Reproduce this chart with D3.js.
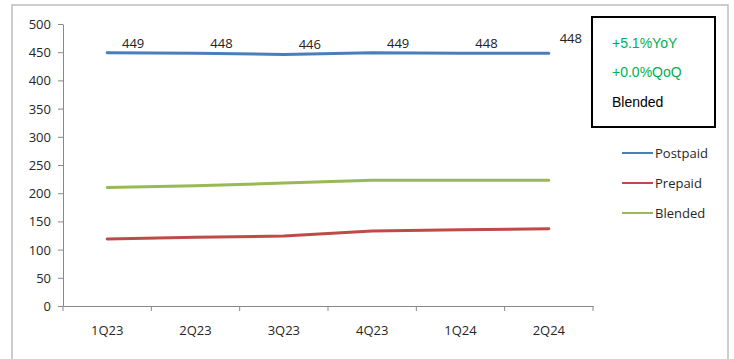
<!DOCTYPE html>
<html>
<head>
<meta charset="utf-8">
<script src="https://cdn.jsdelivr.net/npm/d3@7"></script>
<style>
  body { margin: 0; background: #fff; }
  svg { display: block; }
  .axis text { font-family: "Open Sans", sans-serif; font-size: 13px; fill: #262626; }
  .axis path, .axis line { stroke: #888; }
</style>
</head>
<body>
<div id="chart"></div>
<script>
const quarters = ['1Q23', '2Q23', '3Q23', '4Q23', '1Q24', '2Q24']
const postpaid = [449, 448, 446, 449, 448, 448]
const prepaid = [119, 122, 124, 133, 135, 137]
const blended = [210, 213, 218, 223, 223, 223]
const seriesNames = ['Postpaid', 'Prepaid', 'Blended']
const seriesColors = ['#4a7ebb', '#be4b48', '#98b954']
const yTicks = [0, 50, 100, 150, 200, 250, 300, 350, 400, 450, 500]
const boxLines = ['+5.1%YoY', '+0.0%QoQ', 'Blended']

const W = 734, H = 359
const margin = { top: 24, left: 63 }
const plotW = 530, plotH = 282

const svg = d3.select('#chart').append('svg')
    .attr('width', W)
    .attr('height', H)

// outer frame
svg.append('rect')
    .attr('x', 12).attr('y', 5)
    .attr('width', 716).attr('height', 370)
    .attr('fill', 'none')
    .attr('stroke', '#bdbdbd')
    .attr('stroke-width', 1.5)

const g = svg.append('g')
    .attr('transform', `translate(${margin.left}, ${margin.top})`)

const y = d3.scaleLinear().domain([0, 500]).range([plotH, 0])
const x = d3.scaleBand().domain(quarters).range([0, plotW])
const cx = d => x(d) + x.bandwidth() / 2

g.append('g')
    .classed('axis', true)
    .call(d3.axisLeft(y).tickValues(yTicks).tickSize(5).tickSizeOuter(0).tickPadding(7))
    .call(a => a.selectAll('text').attr('dy', '0.35em'))

// x axis, ticks sit on the band boundaries
const xAxis = g.append('g')
    .classed('axis', true)
    .attr('transform', `translate(0, ${plotH})`)
    .call(d3.axisBottom(x).tickSize(0).tickSizeOuter(0).tickPadding(20))
xAxis.selectAll('.bound')
    .data(d3.range(quarters.length + 1))
    .enter().append('line')
    .attr('x1', i => i * x.step()).attr('x2', i => i * x.step())
    .attr('y1', 0).attr('y2', 5)
    .attr('stroke', '#888')

const series = [postpaid, prepaid, blended]
const line = d3.line()
    .x((_, i) => cx(quarters[i]))
    .y(d => y(d))

g.selectAll('.series')
    .data(series)
    .enter().append('path')
    .attr('d', line)
    .attr('fill', 'none')
    .attr('stroke', (_, i) => seriesColors[i])
    .attr('stroke-width', 3)
    .attr('stroke-linecap', 'round')

// postpaid labels
g.selectAll('.lbl')
    .data(postpaid)
    .enter().append('text')
    .attr('x', (_, i) => cx(quarters[i]) + (i === 5 ? 22 : 26))
    .attr('y', (d, i) => y(d) - (i === 5 ? 10 : 5))
    .attr('text-anchor', 'middle')
    .style('font-family', '"Open Sans", sans-serif')
    .style('font-size', '13px')
    .style('fill', '#222')
    .text(d => d)

// inset box
svg.append('rect')
    .attr('x', 592).attr('y', 17)
    .attr('width', 123).attr('height', 110)
    .attr('fill', '#fff')
    .attr('stroke', '#000')
    .attr('stroke-width', 2)

svg.selectAll('.box')
    .data(boxLines)
    .enter().append('text')
    .attr('x', 612)
    .attr('y', (_, i) => 43 + i * 29.5)
    .attr('dy', '0.35em')
    .style('font-family', '"Liberation Sans", Arial, sans-serif')
    .style('font-size', '14px')
    .style('fill', (_, i) => i < 2 ? '#00b050' : '#000')
    .text(d => d)

// legend
const leg = svg.selectAll('.leg')
    .data(seriesNames)
    .enter().append('g')
    .attr('transform', (_, i) => `translate(622, ${153 + i * 30})`)
leg.append('line')
    .attr('x1', 0).attr('x2', 31)
    .attr('stroke', (_, i) => seriesColors[i])
    .attr('stroke-width', 2)
leg.append('text')
    .attr('x', 33)
    .attr('dy', '0.35em')
    .style('font-family', '"Open Sans", sans-serif')
    .style('font-size', '13px')
    .style('fill', '#262626')
    .text(d => d)
</script>
</body>
</html>
